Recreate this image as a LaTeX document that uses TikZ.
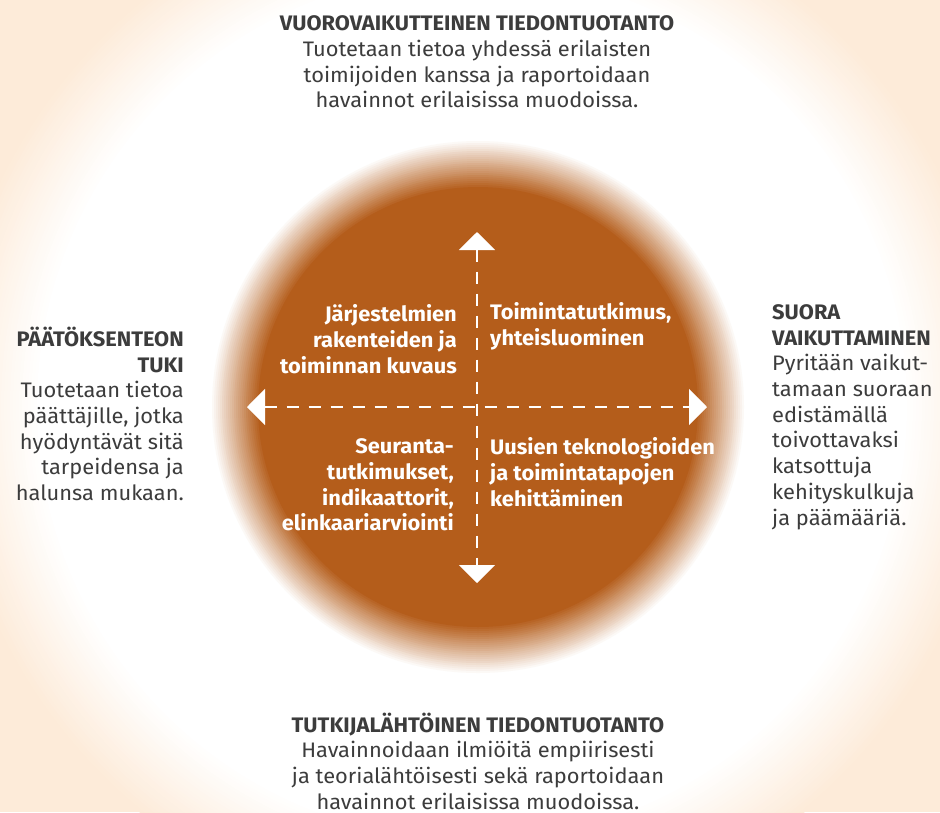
\documentclass[tikz,border=0pt]{standalone}
\usepackage{fontspec}
\setmainfont{Fira Sans}[FakeStretch=1.04]
\usepackage{tikz}
\usetikzlibrary{arrows.meta,positioning}

\definecolor{peach}{HTML}{FDEBD9}
\definecolor{rust}{HTML}{B45D1B}
\definecolor{ink}{HTML}{3C3C3C}

\tikzset{
  body/.style={font=\fontsize{21}{25.7}\selectfont, text=ink, inner sep=0pt},
  quad/.style={font=\bfseries\fontsize{21}{25.7}\selectfont, text=white, inner sep=0pt},
  axis/.style={white, line width=2pt, dash pattern=on 12pt off 10pt,
    arrows={Triangle[width=36pt,length=18pt]-Triangle[width=36pt,length=18pt]}}
}

\begin{document}
\begin{tikzpicture}[x=1pt,y=-1pt]
    \useasboundingbox (0,0) rectangle (940,812);
    \coordinate (mid) at (472,406);
    \coordinate (ctr) at (478,407);

    % background glow: peach corners, white middle
    \begin{scope}
        \clip (0,0) rectangle (940,812);
        \fill[peach] (0,0) rectangle (940,812);
        \foreach \i in {0,...,30} {
            \pgfmathtruncatemacro{\pct}{\i*100/30}
            \fill[white!\pct!peach] (mid) circle ({525-3*\i});
        }
    \end{scope}

    % soft brown disc
    \foreach \i in {0,...,24} {
        \pgfmathtruncatemacro{\pct}{\i*100/24}
        \fill[rust!\pct!white] (ctr) circle ({268-2*\i});
    }

    % axes
    \coordinate (up) at (477,232);
    \coordinate (down) at (477,583);
    \coordinate (west) at (247,407);
    \coordinate (east) at (707,407);
    \draw[axis] (up) -- (down);
    \draw[axis] (west) -- (east);

    % outer labels
    \node[body, align=center] (vuoro) at (477,62)
        {\textbf{VUOROVAIKUTTEINEN TIEDONTUOTANTO}\\Tuotetaan tietoa yhdessä erilaisten\\toimijoiden kanssa ja raportoidaan\\havainnot erilaisissa muodoissa.};
    \node[body, align=center] (tutkija) at (478,761)
        {\textbf{TUTKIJALÄHTÖINEN TIEDONTUOTANTO}\\Havainnoidaan ilmiöitä empiirisesti\\ja teorialähtöisesti sekä raportoidaan\\havainnot erilaisissa muodoissa.};
    \node[body, align=right, anchor=east] (paatos) at (184,414)
        {\textbf{PÄÄTÖKSENTEON}\\\textbf{TUKI}\\Tuotetaan tietoa\\päättäjille, jotka\\hyödyntävät sitä\\tarpeidensa ja\\halunsa mukaan.};
    \node[body, align=left, anchor=west] (suora) at (772,417)
        {\textbf{SUORA}\\\textbf{VAIKUTTAMINEN}\\Pyritään vaikut-\\tamaan suoraan\\edistämällä\\toivottavaksi\\katsottuja\\kehityskulkuja\\ja päämääriä.};

    % quadrants
    \node[quad, align=right, anchor=east] (q1) at (457,339)
        {Järjestelmien\\rakenteiden ja\\toiminnan kuvaus};
    \node[quad, align=left, anchor=west] (q2) at (490,326)
        {Toimintatutkimus,\\yhteisluominen};
    \node[quad, align=right, anchor=east] (q3) at (454,485)
        {Seuranta-\\tutkimukset,\\indikaattorit,\\elinkaariarviointi};
    \node[quad, align=left, anchor=west] (q4) at (490,472)
        {Uusien teknologioiden\\ja toimintatapojen\\kehittäminen};
\end{tikzpicture}
\end{document}
